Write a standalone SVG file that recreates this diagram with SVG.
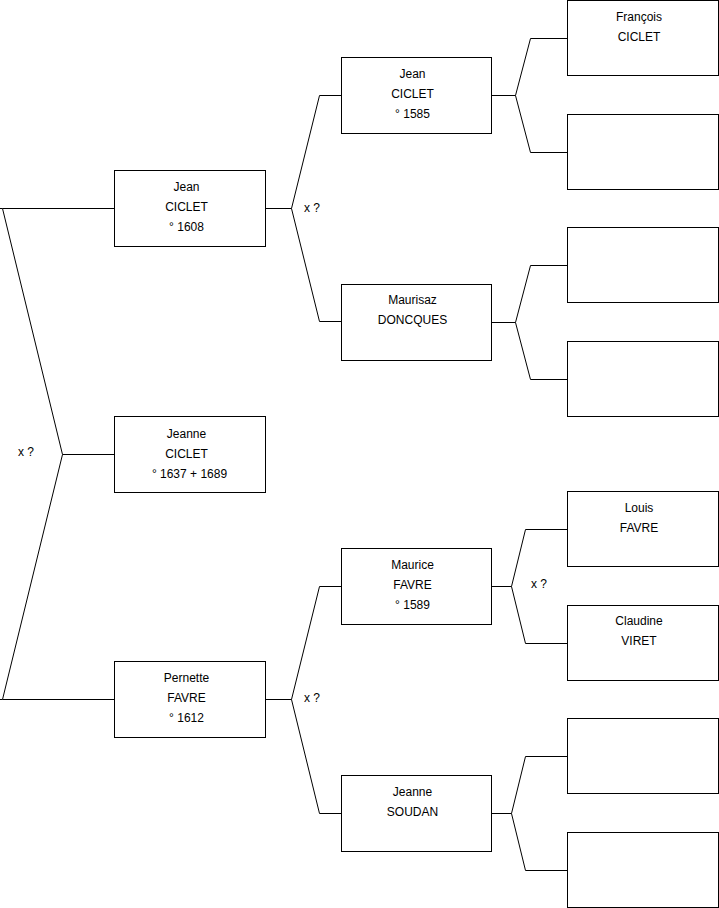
<svg xmlns="http://www.w3.org/2000/svg" width="719" height="908" viewBox="0 0 719 908">
<style>
.b{fill:#fff;stroke:#000;stroke-width:1}
.c{fill:none;stroke:#000;stroke-width:1}
text{font-family:"Liberation Sans",Arial,sans-serif;font-size:12px;fill:#000}
.m{text-anchor:middle}
</style>
<rect width="719" height="908" fill="#fff"/>
<g id="connectors">
<path class="c" d="M114.5,454.5H62.5M0,208.5H2.5L62.5,454.5L2.5,699.5H0M2.5,208.5H114.5M2.5,699.5H114.5"/>
<path class="c" d="M265.5,208.5H291.5L319.5,95.5H341.5M291.5,208.5L319.5,321.5H341.5"/>
<path class="c" d="M265.5,699.5H291.5L319.5,586.5H341.5M291.5,699.5L319.5,813.5H341.5"/>
<path class="c" d="M491.5,95.5H515.5L530.5,38.5H567.5M515.5,95.5L530.5,152.5H567.5"/>
<path class="c" d="M491.5,322.5H515.5L530.5,265.5H567.5M515.5,322.5L530.5,379.5H567.5"/>
<path class="c" d="M491.5,586.5H511.5L525.5,529.5H567.5M511.5,586.5L525.5,643.5H567.5"/>
<path class="c" d="M491.5,813.5H511.5L525.5,756.5H567.5M511.5,813.5L525.5,870.5H567.5"/>
<text x="18" y="456">x ?</text>
<text x="304" y="212">x ?</text>
<text x="304" y="702">x ?</text>
<text x="531" y="588">x ?</text>
</g>
<g id="n-jeanne"><rect class="b" x="114.5" y="416.5" width="151" height="76"/><text class="m" x="186.5" y="438">Jeanne</text><text class="m" x="186.5" y="458">CICLET</text><text class="m" x="189.5" y="478">° 1637 + 1689</text></g>
<g id="n-jean1608"><rect class="b" x="114.5" y="170.5" width="151" height="76"/><text class="m" x="186.5" y="191">Jean</text><text class="m" x="186.5" y="211">CICLET</text><text class="m" x="186.5" y="231">° 1608</text></g>
<g id="n-pernette"><rect class="b" x="114.5" y="661.5" width="151" height="76"/><text class="m" x="186.5" y="682">Pernette</text><text class="m" x="186.5" y="702">FAVRE</text><text class="m" x="186.5" y="722">° 1612</text></g>
<g id="n-jean1585"><rect class="b" x="341.5" y="57.5" width="150" height="76"/><text class="m" x="412.5" y="78">Jean</text><text class="m" x="412.5" y="98">CICLET</text><text class="m" x="412.5" y="118">° 1585</text></g>
<g id="n-maurisaz"><rect class="b" x="341.5" y="284.5" width="150" height="76"/><text class="m" x="412.5" y="304">Maurisaz</text><text class="m" x="412.5" y="324">DONCQUES</text></g>
<g id="n-maurice"><rect class="b" x="341.5" y="548.5" width="150" height="76"/><text class="m" x="412.5" y="569">Maurice</text><text class="m" x="412.5" y="589">FAVRE</text><text class="m" x="412.5" y="609">° 1589</text></g>
<g id="n-soudan"><rect class="b" x="341.5" y="775.5" width="150" height="76"/><text class="m" x="412.5" y="796">Jeanne</text><text class="m" x="412.5" y="816">SOUDAN</text></g>
<g id="n-francois"><rect class="b" x="567.5" y="0.5" width="151" height="75"/><text class="m" x="639" y="21">François</text><text class="m" x="639" y="41">CICLET</text></g>
<g id="n-e1"><rect class="b" x="567.5" y="114.5" width="151" height="75"/></g>
<g id="n-e2"><rect class="b" x="567.5" y="227.5" width="151" height="75"/></g>
<g id="n-e3"><rect class="b" x="567.5" y="341.5" width="151" height="75"/></g>
<g id="n-louis"><rect class="b" x="567.5" y="491.5" width="151" height="75"/><text class="m" x="639" y="512">Louis</text><text class="m" x="639" y="532">FAVRE</text></g>
<g id="n-claudine"><rect class="b" x="567.5" y="605.5" width="151" height="75"/><text class="m" x="639" y="625">Claudine</text><text class="m" x="639" y="645">VIRET</text></g>
<g id="n-e4"><rect class="b" x="567.5" y="718.5" width="151" height="75"/></g>
<g id="n-e5"><rect class="b" x="567.5" y="832.5" width="151" height="75"/></g>
</svg>
